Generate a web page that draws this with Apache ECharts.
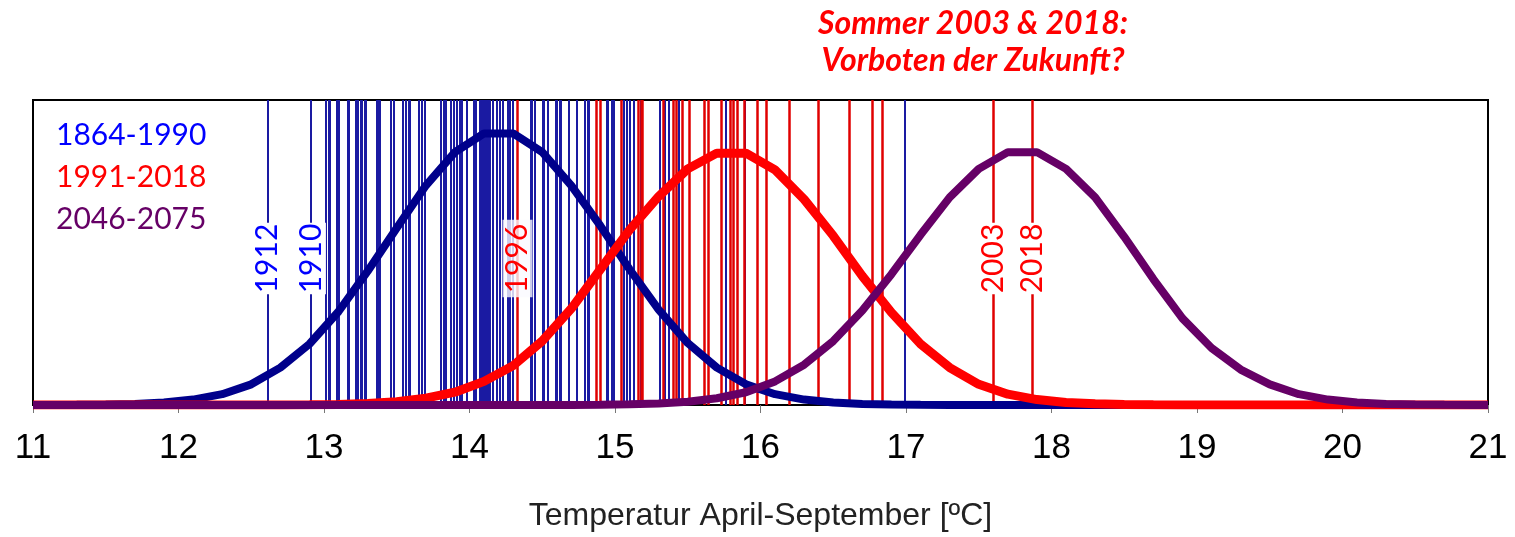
<!DOCTYPE html>
<html>
<head>
<meta charset="utf-8">
<title>Sommer 2003 & 2018</title>
<script src="https://cdn.jsdelivr.net/npm/echarts@6.0.0/dist/echarts.min.js"></script>
<style>
  html, body { margin: 0; padding: 0; background: #fff; }
  #chart { width: 1515px; height: 537px; }
</style>
</head>
<body>
<div id="chart"></div>
<script>
// temperature grid of the fitted curves (°C)
const curveTemps = [11.0, 11.1, 11.3, 11.5, 11.7, 11.9, 12.1, 12.3, 12.5, 12.7, 12.9,
  13.1, 13.3, 13.5, 13.7, 13.9, 14.1, 14.3, 14.5, 14.7, 14.9, 15.1, 15.3, 15.5, 15.7, 15.9,
  16.1, 16.3, 16.5, 16.7, 16.9, 17.1, 17.3, 17.5, 17.7, 17.9, 18.1, 18.3, 18.5, 18.7, 18.9,
  19.1, 19.3, 19.5, 19.7, 19.9, 20.1, 20.3, 20.5, 20.7, 20.9, 21.0];

// curve heights (relative frequency)
const curve1864 = [0, 0.05, 0.2, 0.4, 1.1, 2.5, 5.5, 11, 21, 38, 62,
  95, 136, 180, 223, 257, 276, 276, 257, 223, 182, 138, 97, 63, 38, 21,
  11, 5.5, 2.5, 1.1, 0.4, 0.2, 0.05, 0, 0, 0, 0, 0, 0, 0, 0,
  0, 0, 0, 0, 0, 0, 0, 0, 0, 0, 0];
const curve1991 = [0, 0, 0, 0, 0, 0, 0, 0, 0, 0.1, 0.3,
  0.6, 1.5, 3.3, 7, 13, 24, 40, 65, 98, 138, 178, 212, 240, 256, 256,
  239, 209, 172, 131, 94, 62, 38, 21, 11, 5.5, 2.6, 1.2, 0.5, 0.2, 0.1,
  0, 0, 0, 0, 0, 0, 0, 0, 0, 0, 0];
const curve2046 = [0, 0, 0, 0, 0, 0, 0, 0, 0, 0, 0,
  0, 0, 0, 0, 0, 0, 0, 0, 0.1, 0.3, 0.65, 1.5, 3.4, 6.9, 13,
  24, 41, 65, 96, 133, 173, 211, 240, 257, 257, 240, 211, 171, 128, 88,
  58, 36, 21, 11, 5.5, 2.6, 1.1, 0.5, 0.2, 0.1, 0];

// single summers (April-September mean, °C)
const summers1864 = [12.61, 12.91, 13.01, 13.03, 13.04, 13.09, 13.10, 13.16, 13.17, 13.22,
  13.23, 13.25, 13.26, 13.28, 13.29, 13.36, 13.37, 13.38, 13.46, 13.48, 13.54, 13.56, 13.58,
  13.59, 13.65, 13.67, 13.69, 13.80, 13.82, 13.84, 13.87, 13.89, 13.91, 13.93, 13.95, 13.98,
  14.03, 14.04, 14.07, 14.08, 14.08, 14.09, 14.10, 14.10, 14.11, 14.12, 14.12, 14.13, 14.14,
  14.16, 14.19, 14.21, 14.23, 14.26, 14.28, 14.30, 14.42, 14.43, 14.45, 14.50, 14.51, 14.54,
  14.59, 14.60, 14.62, 14.63, 14.68, 14.74, 14.79, 14.81, 14.82, 14.94, 14.95, 14.98, 14.99,
  15.06, 15.08, 15.10, 15.13, 15.18, 15.31, 15.34, 15.37, 15.44, 15.76, 15.89, 16.99];
const summers1991 = [14.33, 14.87, 14.90, 15.04, 15.16, 15.18, 15.19, 15.33, 15.40, 15.42,
  15.46, 15.51, 15.61, 15.64, 15.73, 15.79, 15.81, 15.84, 15.89, 15.98, 16.04, 16.20, 16.40,
  16.61, 16.77, 16.84, 17.60, 17.87];

// labelled summers
const markedYears = ["1912", "1910", "1996", "2003", "2018"];
const markedTemps = [12.61, 12.91, 14.33, 17.60, 17.87];

const periods = ["1864-1990", "1991-2018", "2046-2075"];

const chart = echarts.init(document.getElementById("chart"));

function toPairs(ys) {
  return curveTemps.map((t, i) => [t, ys[i]]);
}

function yearLines(temps, textColor) {
  return temps.map((t) => {
    const i = markedTemps.indexOf(t);
    const item = { xAxis: t };
    if (i >= 0) {
      item.label = {
        show: true,
        position: "middle",
        distance: 0,
        verticalAlign: "middle",
        align: "center",
        offset: [-6, 0],
        formatter: markedYears[i],
        color: textColor,
        fontFamily: "Lato",
        fontSize: 30,
        // 1996 sits in a translucent box
        backgroundColor: i === 2 ? "rgba(250,250,255,0.8)" : "#fff",
        padding: i === 2 ? [0, 4] : [0, 1],
      };
    }
    return item;
  });
}

function markLine(temps, color, width, textColor, z) {
  return {
    symbol: "none",
    silent: true,
    animation: false,
    z: z,
    label: { show: false },
    emphasis: { disabled: true },
    lineStyle: { color: color, width: width, type: "solid" },
    data: yearLines(temps, textColor),
  };
}

function curve(name, ys, color, width, z) {
  return {
    name: name,
    type: "line",
    data: toPairs(ys),
    showSymbol: false,
    z: z,
    lineStyle: { color: color, width: width },
    itemStyle: { color: color },
  };
}

chart.setOption({
  animation: false,
  title: {
    text: "Sommer 2003 & 2018:\nVorboten der Zukunft?",
    left: 968,
    top: 0,
    textAlign: "center",
    textStyle: {
      color: "#ff0000",
      fontStyle: "italic",
      fontWeight: "bold",
      fontFamily: "Lato",
      fontSize: 32,
      lineHeight: 37,
    },
  },
  legend: {
    data: [
      { name: periods[0], textStyle: { color: "#0000ff" } },
      { name: periods[1], textStyle: { color: "#ff0000" } },
      { name: periods[2], textStyle: { color: "#660066" } },
    ],
    orient: "vertical",
    left: 46,
    top: 115,
    icon: "none",
    itemWidth: 0,
    itemHeight: 30,
    itemGap: 12,
    selectedMode: false,
    textStyle: { fontFamily: "Lato", fontSize: 30 },
  },
  grid: {
    left: 33,
    right: 27,
    top: 100,
    bottom: 127,
    show: true,
    borderColor: "#000",
    borderWidth: 2,
  },
  xAxis: {
    type: "value",
    min: 11,
    max: 21,
    interval: 1,
    axisLine: { lineStyle: { color: "#000", width: 2 } },
    axisTick: { show: true, length: 8, lineStyle: { color: "#777" } },
    splitLine: { show: false },
    axisLabel: {
      margin: 26,
      fontSize: 35,
      color: "#000",
      fontFamily: "'Liberation Sans Narrow', 'Liberation Sans', sans-serif",
    },
    name: "Temperatur April-September [ºC]",
    nameLocation: "middle",
    nameGap: 95,
    nameTextStyle: {
      fontSize: 32,
      color: "#222",
      fontFamily: "'Liberation Sans Narrow', 'Liberation Sans', sans-serif",
    },
  },
  yAxis: {
    type: "value",
    min: 0,
    max: 310,
    axisLine: { show: false },
    axisTick: { show: false },
    axisLabel: { show: false },
    splitLine: { show: false },
  },
  series: [
    {
      name: "Sommer 1864-1990",
      type: "line",
      data: [],
      markLine: markLine(summers1864, "#1a1aa2", 2, "#0000ff", 1),
    },
    {
      name: "Sommer 1991-2018",
      type: "line",
      data: [],
      markLine: markLine(summers1991, "#e00000", 2.5, "#ff0000", 2),
    },
    curve(periods[0], curve1864, "#00008b", 8, 3),
    curve(periods[1], curve1991, "#ff0000", 9, 4),
    curve(periods[2], curve2046, "#660066", 8, 5),
  ],
});
</script>
</body>
</html>
